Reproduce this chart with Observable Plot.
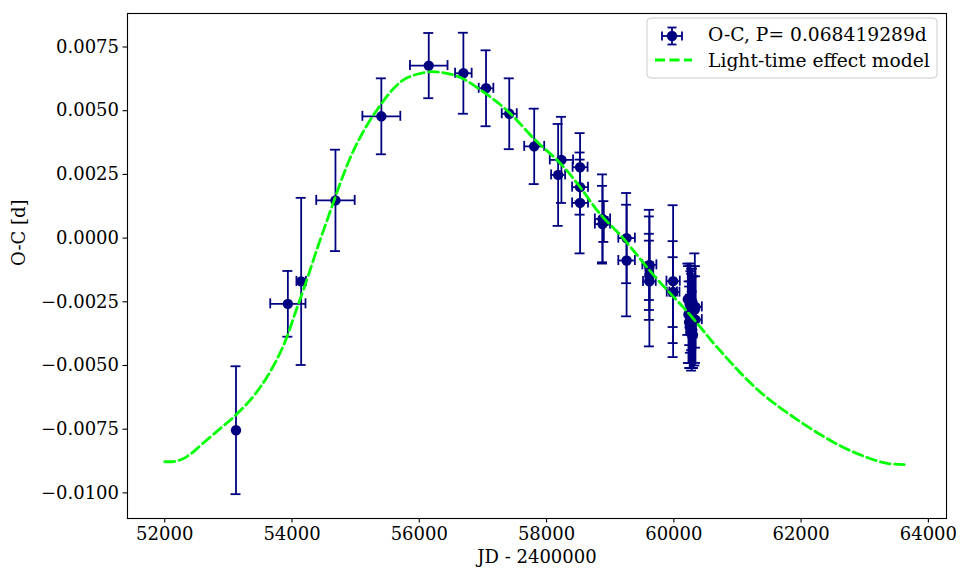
<!DOCTYPE html>
<html><head><meta charset="utf-8">
<script src="https://cdn.jsdelivr.net/npm/d3@7"></script>
<script src="https://cdn.jsdelivr.net/npm/@observablehq/plot@0.6"></script>
<style>
body{margin:0;background:#fff;}
#wrap{position:relative;width:963px;height:570px;}
#legend{position:absolute;left:646px;top:17px;}
</style></head><body><div id="wrap"></div>
<script>
// O-C data (JD - 2400000, O-C in days, errors)
const ocJD = [53120, 53935, 54144, 54683, 55404, 56149, 56693, 57049, 57414, 57806,
  58182, 58234, 58527, 58527, 58527, 58879, 58879, 58900, 59258, 59258,
  59616, 59616, 59616, 59616, 59989, 59989, 59989,
  60220, 60230, 60240, 60250, 60250, 60260, 60260, 60270, 60270, 60280, 60280, 60290, 60290, 60300, 60300, 60310,
  60330, 60340, 60340];
const ocOC = [-0.00754, -0.00258, -0.00170, 0.00148, 0.00478, 0.00677, 0.00647, 0.00588, 0.00488, 0.00360,
  0.00248, 0.00307, 0.00278, 0.00200, 0.00138, 0.00075, 0.00055, 0.00065, 0.00000, -0.00088,
  -0.00105, -0.00170, -0.00113, -0.00146, -0.00169, -0.00212, -0.00212,
  -0.0024, -0.0030, -0.0033, -0.0026, -0.0035, -0.0028, -0.0037, -0.0031, -0.0034, -0.0029, -0.0032, -0.0036, -0.0025, -0.0038, -0.0027, -0.0033,
  -0.0028, -0.0027, -0.0032];
const ocJDerr = [0, 277, 74, 302, 298, 295, 130, 115, 118, 157,
  110, 183, 118, 125, 125, 120, 120, 60, 130, 130,
  110, 100, 60, 60, 105, 100, 60,
  30, 30, 30, 30, 30, 30, 30, 30, 30, 30, 30, 30, 30, 30, 30, 30,
  40, 100, 100];
const ocOCerr = [0.00251, 0.00129, 0.00328, 0.00199, 0.00149, 0.00128, 0.00159, 0.00149, 0.00139, 0.00148,
  0.00200, 0.00169, 0.00134, 0.00108, 0.00198, 0.00175, 0.00150, 0.00080, 0.00177, 0.00219,
  0.00216, 0.00255, 0.00130, 0.00136, 0.00298, 0.00200, 0.00137,
  0.0014, 0.0019, 0.0016, 0.0016, 0.0016, 0.0017, 0.0014, 0.0018, 0.0017, 0.0015, 0.0020, 0.0015, 0.0013, 0.0013, 0.0012, 0.0018,
  0.0022, 0.0016, 0.0017];

// Light-time effect model curve
const modelJD = [52000, 52130, 52270, 52420, 52560, 52870, 53080, 53370, 53600, 53860, 54070, 54230, 54360, 54540, 54960, 55330,
  55740, 56110, 56320, 56630, 57050, 57410, 57830, 58200, 58510, 58830, 59140, 59240, 59710, 60240, 60700,
  61330, 61960, 62590, 63060, 63350, 63620];
const modelOC = [-0.00877, -0.00877, -0.00868, -0.00845, -0.00814, -0.00748, -0.00703, -0.00628, -0.00548, -0.00425, -0.00280, -0.00166, -0.00068, 0.00062, 0.00340, 0.00501,
  0.00619, 0.00651, 0.00651, 0.00632, 0.00566, 0.00494, 0.00383, 0.00298, 0.00206, 0.00098, 0.00017, -0.00011, -0.00153, -0.00297, -0.00434,
  -0.00598, -0.00716, -0.00812, -0.00863, -0.00884, -0.00889];

const xTicks = [52000, 54000, 56000, 58000, 60000, 62000, 64000];
const yTicks = [-0.0100, -0.0075, -0.0050, -0.0025, 0.0000, 0.0025, 0.0050, 0.0075];
const legendLabels = ["O-C, P= 0.068419289d", "Light-time effect model"];
const xLabel = "JD - 2400000";
const yLabel = "O-C [d]";

const navy = "#000080";
const lime = "#00ff00";
const font = "DejaVu Serif, serif";

const obs = ocJD.map((x, i) => ({x, y: ocOC[i], xe: ocJDerr[i], ye: ocOCerr[i]}));
const obsX = obs.filter(d => d.xe > 0);
const model = modelJD.map((x, i) => ({x, y: modelOC[i]}));

const chart = Plot.plot({
  width: 963, height: 570,
  marginLeft: 127, marginRight: 17, marginTop: 13, marginBottom: 52,
  style: {fontFamily: font, fontSize: "18px", color: "#000", background: "#fff"},
  x: {domain: [51415, 64285]},
  y: {domain: [-0.011005, 0.008815]},
  marks: [
    Plot.axisX({ticks: xTicks, tickFormat: d3.format("d"), tickSize: 4.5, tickPadding: 4, label: null, fontSize: 18, strokeWidth: 1.1}),
    Plot.axisY({ticks: yTicks, tickFormat: d3.format(".4f"), tickSize: 4.5, tickPadding: 4, label: null, fontSize: 18, strokeWidth: 1.1}),
    Plot.text([xLabel], {frameAnchor: "bottom", dy: 44, fontSize: 18, fill: "#000"}),
    Plot.text([yLabel], {frameAnchor: "left", dx: -108, rotate: -90, fontSize: 18, fill: "#000"}),
    // vertical error bars
    Plot.ruleX(obs, {x: "x", y1: d => d.y - d.ye, y2: d => d.y + d.ye, stroke: navy, strokeWidth: 1.8}),
    Plot.ruleY(obs, {y: d => d.y + d.ye, x1: "x", x2: "x", insetLeft: -5, insetRight: -5, stroke: navy, strokeWidth: 1.8}),
    Plot.ruleY(obs, {y: d => d.y - d.ye, x1: "x", x2: "x", insetLeft: -5, insetRight: -5, stroke: navy, strokeWidth: 1.8}),
    // horizontal error bars
    Plot.ruleY(obsX, {y: "y", x1: d => d.x - d.xe, x2: d => d.x + d.xe, stroke: navy, strokeWidth: 1.8}),
    Plot.ruleX(obsX, {x: d => d.x - d.xe, y1: "y", y2: "y", insetTop: -5, insetBottom: -5, stroke: navy, strokeWidth: 1.8}),
    Plot.ruleX(obsX, {x: d => d.x + d.xe, y1: "y", y2: "y", insetTop: -5, insetBottom: -5, stroke: navy, strokeWidth: 1.8}),
    Plot.dot(obs, {x: "x", y: "y", r: 5.2, fill: navy, stroke: null}),
    Plot.line(model, {x: "x", y: "y", stroke: lime, strokeWidth: 2.8, strokeDasharray: "10,4.5", curve: "catmull-rom"}),
    Plot.frame({stroke: "#000", strokeWidth: 1.1})
  ]
});
const wrap = document.getElementById("wrap");
wrap.appendChild(chart);

// legend (inside the axes, top right)
const lg = d3.select(wrap).append("svg").attr("id", "legend").attr("width", 294).attr("height", 64);
lg.append("rect").attr("x", 1).attr("y", 1).attr("width", 290).attr("height", 60).attr("rx", 4)
  .attr("fill", "rgba(255,255,255,0.8)").attr("stroke", "#cccccc").attr("stroke-width", 1);
const g1 = lg.append("g").attr("transform", "translate(26,19)").attr("stroke", navy).attr("stroke-width", 1.8);
g1.append("line").attr("x1", -10).attr("x2", 10).attr("y1", 0).attr("y2", 0);
g1.append("line").attr("x1", 0).attr("x2", 0).attr("y1", -8.5).attr("y2", 8.5);
g1.append("line").attr("x1", -10).attr("x2", -10).attr("y1", -4.5).attr("y2", 4.5);
g1.append("line").attr("x1", 10).attr("x2", 10).attr("y1", -4.5).attr("y2", 4.5);
g1.append("line").attr("x1", -4.5).attr("x2", 4.5).attr("y1", -8.5).attr("y2", -8.5);
g1.append("line").attr("x1", -4.5).attr("x2", 4.5).attr("y1", 8.5).attr("y2", 8.5);
g1.append("circle").attr("r", 5.2).attr("fill", navy).attr("stroke", "none");
lg.append("line").attr("x1", 9).attr("x2", 46).attr("y1", 43).attr("y2", 43)
  .attr("stroke", lime).attr("stroke-width", 2.8).attr("stroke-dasharray", "10,4.5");
lg.selectAll("text.l").data(legendLabels).join("text").attr("class", "l")
  .attr("x", 62).attr("y", (d, i) => 23.5 + i * 26.5)
  .attr("font-family", font).attr("font-size", 18.7).attr("fill", "#000").text(d => d);
</script>
</body></html>
